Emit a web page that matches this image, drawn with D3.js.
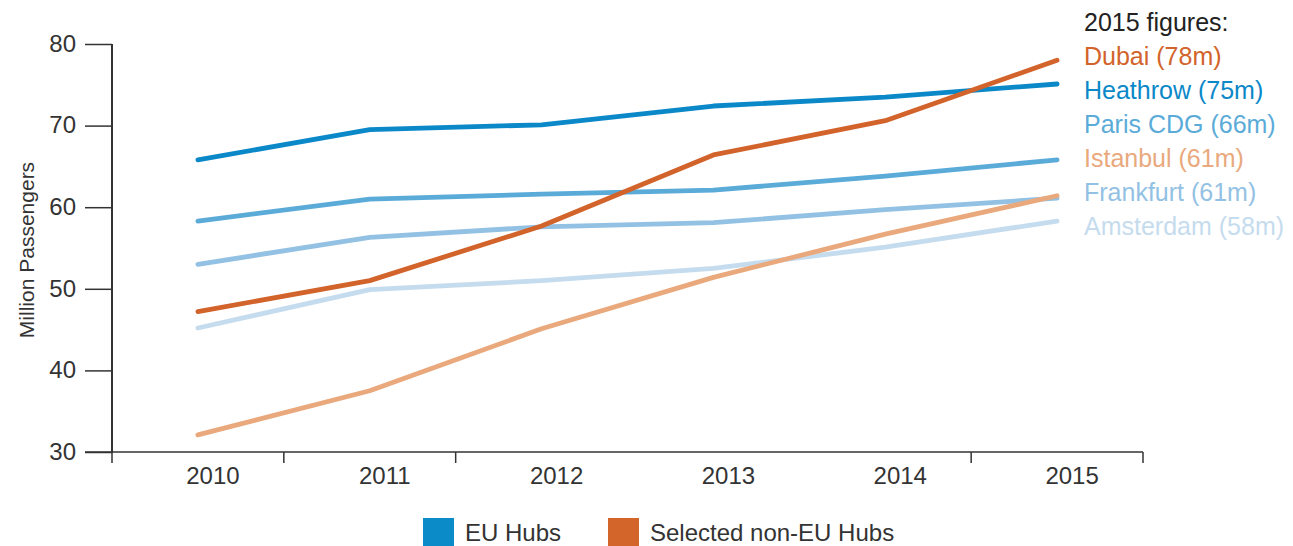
<!DOCTYPE html>
<html><head><meta charset="utf-8">
<script src="https://cdn.jsdelivr.net/npm/d3@7"></script>
<style>
body{margin:0;background:#fff;}
svg text{font-family:"Liberation Sans",Arial,sans-serif;}
</style></head>
<body><svg id="c" width="1293" height="546"></svg>
<script>
const years = ["2010","2011","2012","2013","2014","2015"];
const heathrow = [65.8, 69.5, 70.1, 72.4, 73.5, 75.1];
const paris = [58.3, 61.0, 61.6, 62.1, 63.8, 65.8];
const frankfurt = [53.0, 56.3, 57.6, 58.1, 59.7, 61.1];
const amsterdam = [45.2, 49.9, 51.0, 52.5, 55.1, 58.3];
const dubai = [47.2, 51.0, 57.7, 66.4, 70.6, 78.0];
const istanbul = [32.1, 37.5, 45.1, 51.4, 56.7, 61.4];
const yTicks = [30, 40, 50, 60, 70, 80];
const annotations = ["Dubai (78m)","Heathrow (75m)","Paris CDG (66m)","Istanbul (61m)","Frankfurt (61m)","Amsterdam (58m)"];
const legendLabels = ["EU Hubs","Selected non-EU Hubs"];

(function(){
const series = [
  {name:"Amsterdam", values:amsterdam, color:"#c5dcee"},
  {name:"Frankfurt", values:frankfurt, color:"#93c1e3"},
  {name:"Paris", values:paris, color:"#5babd9"},
  {name:"Istanbul", values:istanbul, color:"#e9a97d"},
  {name:"Heathrow", values:heathrow, color:"#0b88c8"},
  {name:"Dubai", values:dubai, color:"#d2632b"}
];
const annColors = ["#d2632b","#0b88c8","#5babd9","#e9a97d","#93c1e3","#c5dcee"];
const legendColors = ["#0b8bc8","#d3652b"];

const svg = d3.select("#c");
const mLeft = 112, mRight = 1143, mTop = 44, mBottom = 452;
const x = d3.scaleBand().domain(years).range([mLeft, mRight]);
const y = d3.scaleLinear().domain([30, 80]).range([mBottom, mTop]);
const cx = d => x(d) + x.bandwidth()/2;

// y axis
const ya = svg.append("g").attr("transform",`translate(${mLeft},0)`)
  .call(d3.axisLeft(y).tickValues(yTicks).tickSize(27).tickPadding(9));
ya.select(".domain").remove();
ya.selectAll(".tick line").attr("stroke","#333").attr("stroke-width",1.5);
ya.selectAll(".tick text").attr("fill","#333").style("font-size","24px").attr("dy","0.3em");
svg.append("line").attr("x1",mLeft).attr("x2",mLeft).attr("y1",mTop).attr("y2",mBottom+1)
  .attr("stroke","#333").attr("stroke-width",2);

// x axis
svg.append("line").attr("x1",mLeft-27).attr("x2",mRight).attr("y1",mBottom).attr("y2",mBottom)
  .attr("stroke","#333").attr("stroke-width",1.5);
const boundaries = [0,1,2,5,6];
svg.selectAll(".xt").data(boundaries).join("line")
  .attr("x1",i=>mLeft+i*x.step()).attr("x2",i=>mLeft+i*x.step())
  .attr("y1",mBottom).attr("y2",mBottom+11).attr("stroke","#333").attr("stroke-width",1.5);
svg.selectAll(".xl").data(years).join("text")
  .attr("x",d=>cx(d)+15).attr("y",484).attr("text-anchor","middle")
  .attr("fill","#333").style("font-size","24px").text(d=>d);

// y label
svg.append("text").attr("transform","translate(34,250) rotate(-90)")
  .attr("text-anchor","middle").attr("fill","#333").style("font-size","21px").text("Million Passengers");

// lines
const line = d3.line().x((v,i)=>cx(years[i])).y(v=>y(v));
svg.selectAll(".ln").data(series).join("path")
  .attr("d",s=>line(s.values)).attr("fill","none").attr("stroke",s=>s.color)
  .attr("stroke-width",4.8).attr("stroke-linecap","round").attr("stroke-linejoin","round");

// annotations
svg.append("text").attr("x",1084).attr("y",31).attr("fill","#222").style("font-size","25px").text("2015 figures:");
svg.selectAll(".ann").data(annotations).join("text")
  .attr("x",1084).attr("y",(d,i)=>65+i*34).attr("fill",(d,i)=>annColors[i])
  .style("font-size","25px").text(d=>d);

// legend
const lx = [423, 608];
legendLabels.forEach((l,i)=>{
  svg.append("rect").attr("x",lx[i]).attr("y",518).attr("width",31).attr("height",31).attr("fill",legendColors[i]);
  svg.append("text").attr("x",lx[i]+42).attr("y",541).attr("fill","#333").style("font-size","24px").text(l);
});
})();
</script></body></html>
